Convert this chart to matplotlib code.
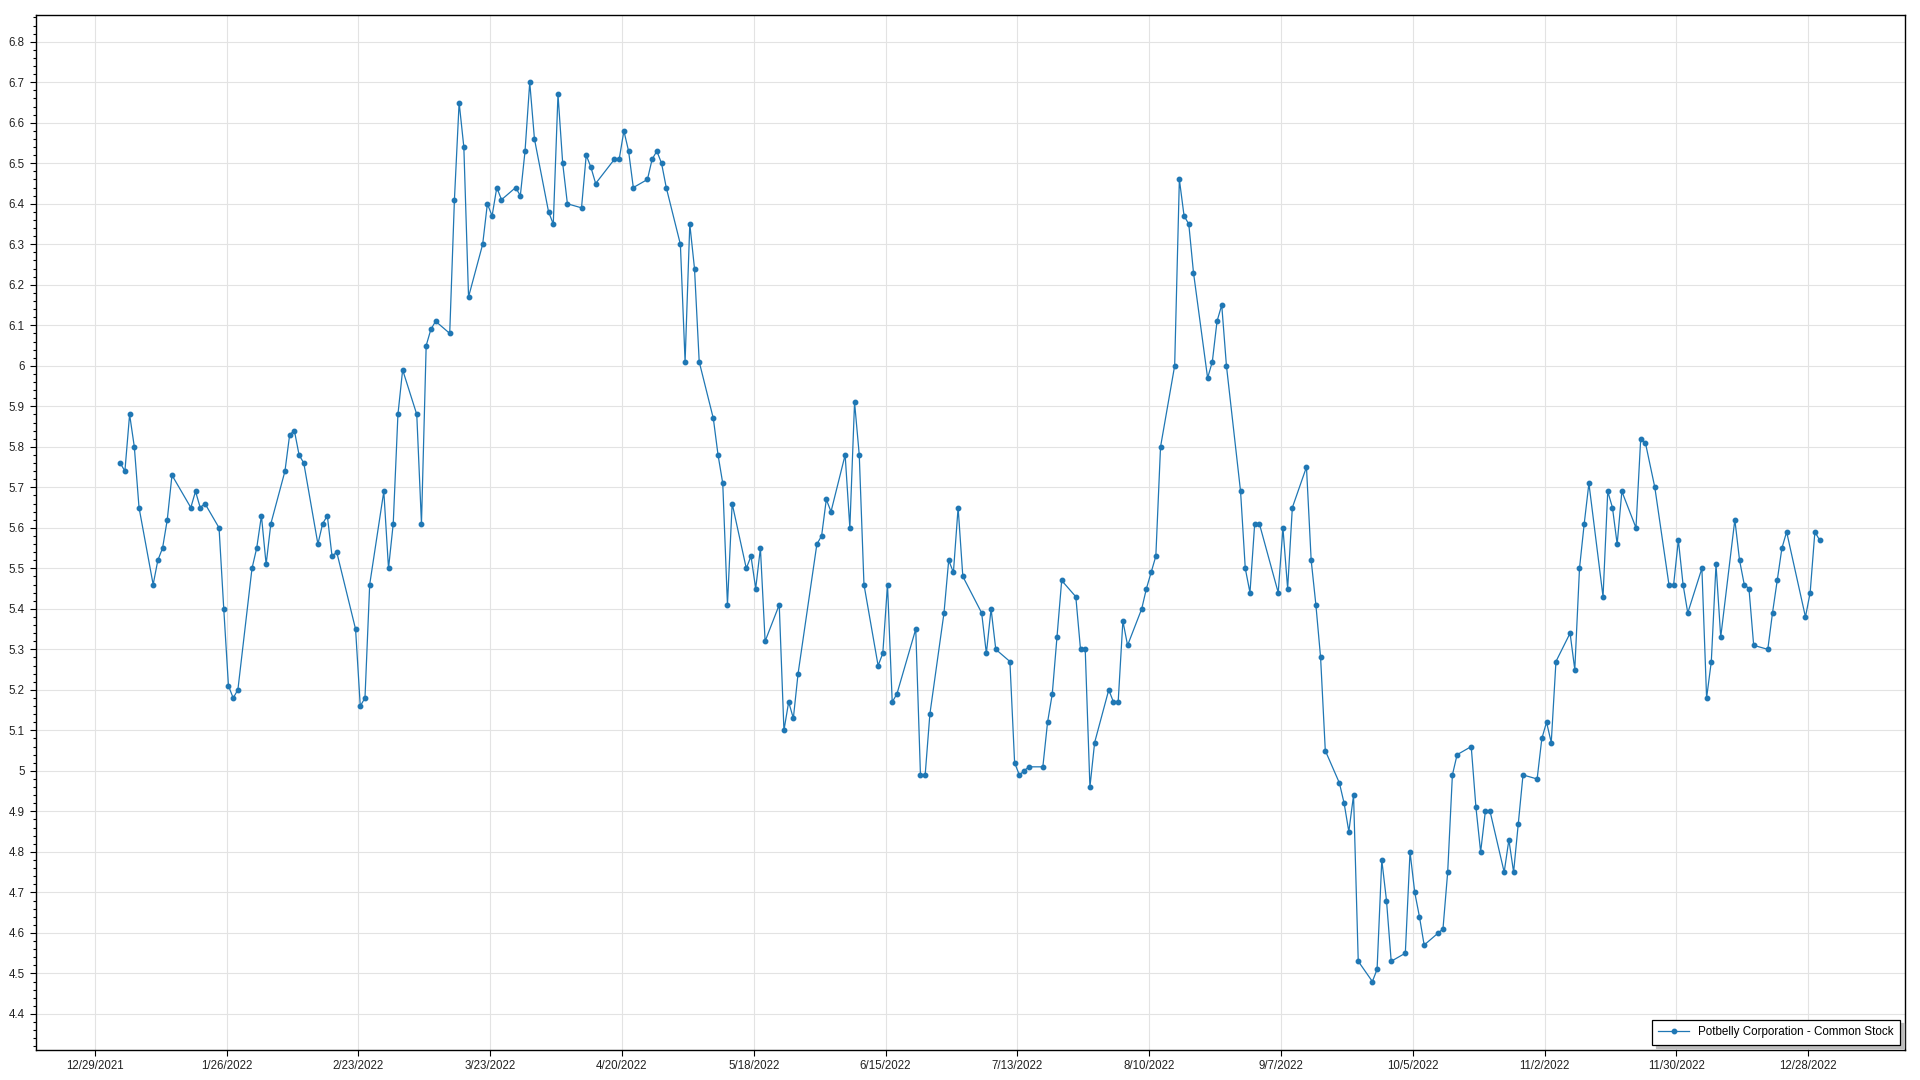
import pandas as pd
import matplotlib
matplotlib.use('Agg')
from matplotlib import pyplot as plt
from matplotlib.ticker import MultipleLocator, FuncFormatter

# serie: cierres diarios 2022
holidays = ['2022-01-17', '2022-02-21', '2022-04-15', '2022-05-30', '2022-06-20',
            '2022-07-04', '2022-09-05', '2022-11-24', '2022-12-26']

jan = [5.76, 5.74, 5.88, 5.80, 5.65, 5.46, 5.52, 5.55, 5.62, 5.73,
       5.65, 5.69, 5.65, 5.66, 5.60, 5.40, 5.21, 5.18, 5.20, 5.50]
feb = [5.55, 5.63, 5.51, 5.61, 5.74, 5.83, 5.84, 5.78, 5.76, 5.56,
       5.61, 5.63, 5.53, 5.54, 5.35, 5.16, 5.18, 5.46, 5.69]
mar = [5.50, 5.61, 5.88, 5.99, 5.88, 5.61, 6.05, 6.09, 6.11, 6.08, 6.41, 6.65,
       6.54, 6.17, 6.30, 6.40, 6.37, 6.44, 6.41, 6.44, 6.42, 6.53, 6.70]
apr = [6.56, 6.38, 6.35, 6.67, 6.50, 6.40, 6.39, 6.52, 6.49, 6.45,
       6.51, 6.51, 6.58, 6.53, 6.44, 6.46, 6.51, 6.53, 6.50, 6.44]
may = [6.30, 6.01, 6.35, 6.24, 6.01, 5.87, 5.78, 5.71, 5.41, 5.66, 5.50,
       5.53, 5.45, 5.55, 5.32, 5.41, 5.10, 5.17, 5.13, 5.24, 5.56]
jun = [5.58, 5.67, 5.64, 5.78, 5.60, 5.91, 5.78, 5.46, 5.26, 5.29, 5.46,
       5.17, 5.19, 5.35, 4.99, 4.99, 5.14, 5.39, 5.52, 5.49, 5.65]
jul = [5.48, 5.39, 5.29, 5.40, 5.30, 5.27, 5.02, 4.99, 5.00, 5.01,
       5.01, 5.12, 5.19, 5.33, 5.47, 5.43, 5.30, 5.30, 4.96, 5.07]
aug = [5.20, 5.17, 5.17, 5.37, 5.31, 5.40, 5.45, 5.49, 5.53, 5.80, 6.00, 6.46,
       6.37, 6.35, 6.23, 5.97, 6.01, 6.11, 6.15, 6.00, 5.69, 5.50, 5.44]
sep = [5.61, 5.61, 5.44, 5.60, 5.45, 5.65, 5.75, 5.52, 5.41, 5.28, 5.05,
       4.97, 4.92, 4.85, 4.94, 4.53, 4.48, 4.51, 4.78, 4.68, 4.53]
oct_ = [4.55, 4.80, 4.70, 4.64, 4.57, 4.60, 4.61, 4.75, 4.99, 5.04, 5.06,
        4.91, 4.80, 4.90, 4.90, 4.75, 4.83, 4.75, 4.87, 4.99, 4.98]
nov = [5.08, 5.12, 5.07, 5.27, 5.34, 5.25, 5.50, 5.61, 5.71, 5.43, 5.69,
       5.65, 5.56, 5.69, 5.60, 5.82, 5.81, 5.70, 5.46, 5.46, 5.57]
dec = [5.46, 5.39, 5.50, 5.18, 5.27, 5.51, 5.33, 5.62, 5.52, 5.46, 5.45,
       5.31, 5.30, 5.39, 5.47, 5.55, 5.59, 5.38, 5.44, 5.59, 5.57]

precios = jan + feb + mar + apr + may + jun + jul + aug + sep + oct_ + nov + dec

# dias de mercado (hora de la cotizacion incluida)
fechas = pd.bdate_range('2022-01-03', '2022-12-30', freq='C', holidays=holidays)
fechas = fechas + pd.Timedelta(hours=10)

serie = 'Potbelly Corporation - Common Stock'
ticks_x = pd.date_range('2021-12-29', periods=14, freq='28D')

plt.rcParams['font.family'] = ['Liberation Sans', 'DejaVu Sans']

fig = plt.figure(figsize=(19.2, 10.8), dpi=100)
ax = fig.add_axes([0.0186, 0.0278, 0.9738, 0.9583])

color = '#1f77b4'
ax.plot(fechas, precios, color=color, linewidth=0.9, marker='o', markersize=3.2,
        label=serie, zorder=3)

# ejes
ax.set_xlim(pd.Timestamp('2021-12-29') - pd.Timedelta(days=12.53),
            pd.Timestamp('2021-12-29') + pd.Timedelta(days=384.65))
ax.set_ylim(4.311, 6.866)

ax.set_xticks(ticks_x)
ax.set_xticklabels([f'{d.month}/{d.day}/{d.year}' for d in ticks_x])
ax.yaxis.set_major_locator(MultipleLocator(0.1))
ax.yaxis.set_minor_locator(MultipleLocator(0.02))
ax.yaxis.set_major_formatter(FuncFormatter(lambda v, p: f'{v:.1f}'.rstrip('0').rstrip('.')))

ax.tick_params(axis='both', which='major', labelsize=8.3, length=4, width=0.8,
               color='black', labelcolor='#222222')
ax.tick_params(axis='y', which='minor', length=2, width=0.8, color='black')
ax.tick_params(axis='y', which='major', pad=4)
ax.tick_params(axis='x', which='major', pad=3)

ax.grid(True, which='major', color='#e3e3e3', linewidth=0.8, zorder=0)
ax.set_axisbelow(True)
for s in ax.spines.values():
    s.set_linewidth(1.0)
    s.set_color('black')

leg = ax.legend(loc='lower right', fontsize=8.4, fancybox=False,
                shadow={'color': '#bdbdbd', 'ox': 2.5, 'oy': -2.5, 'alpha': 1},
                edgecolor='black', framealpha=1, borderaxespad=0.45,
                handlelength=2.6, borderpad=0.55)
leg.get_frame().set_linewidth(0.9)

fig.savefig('out.png', dpi=100)
